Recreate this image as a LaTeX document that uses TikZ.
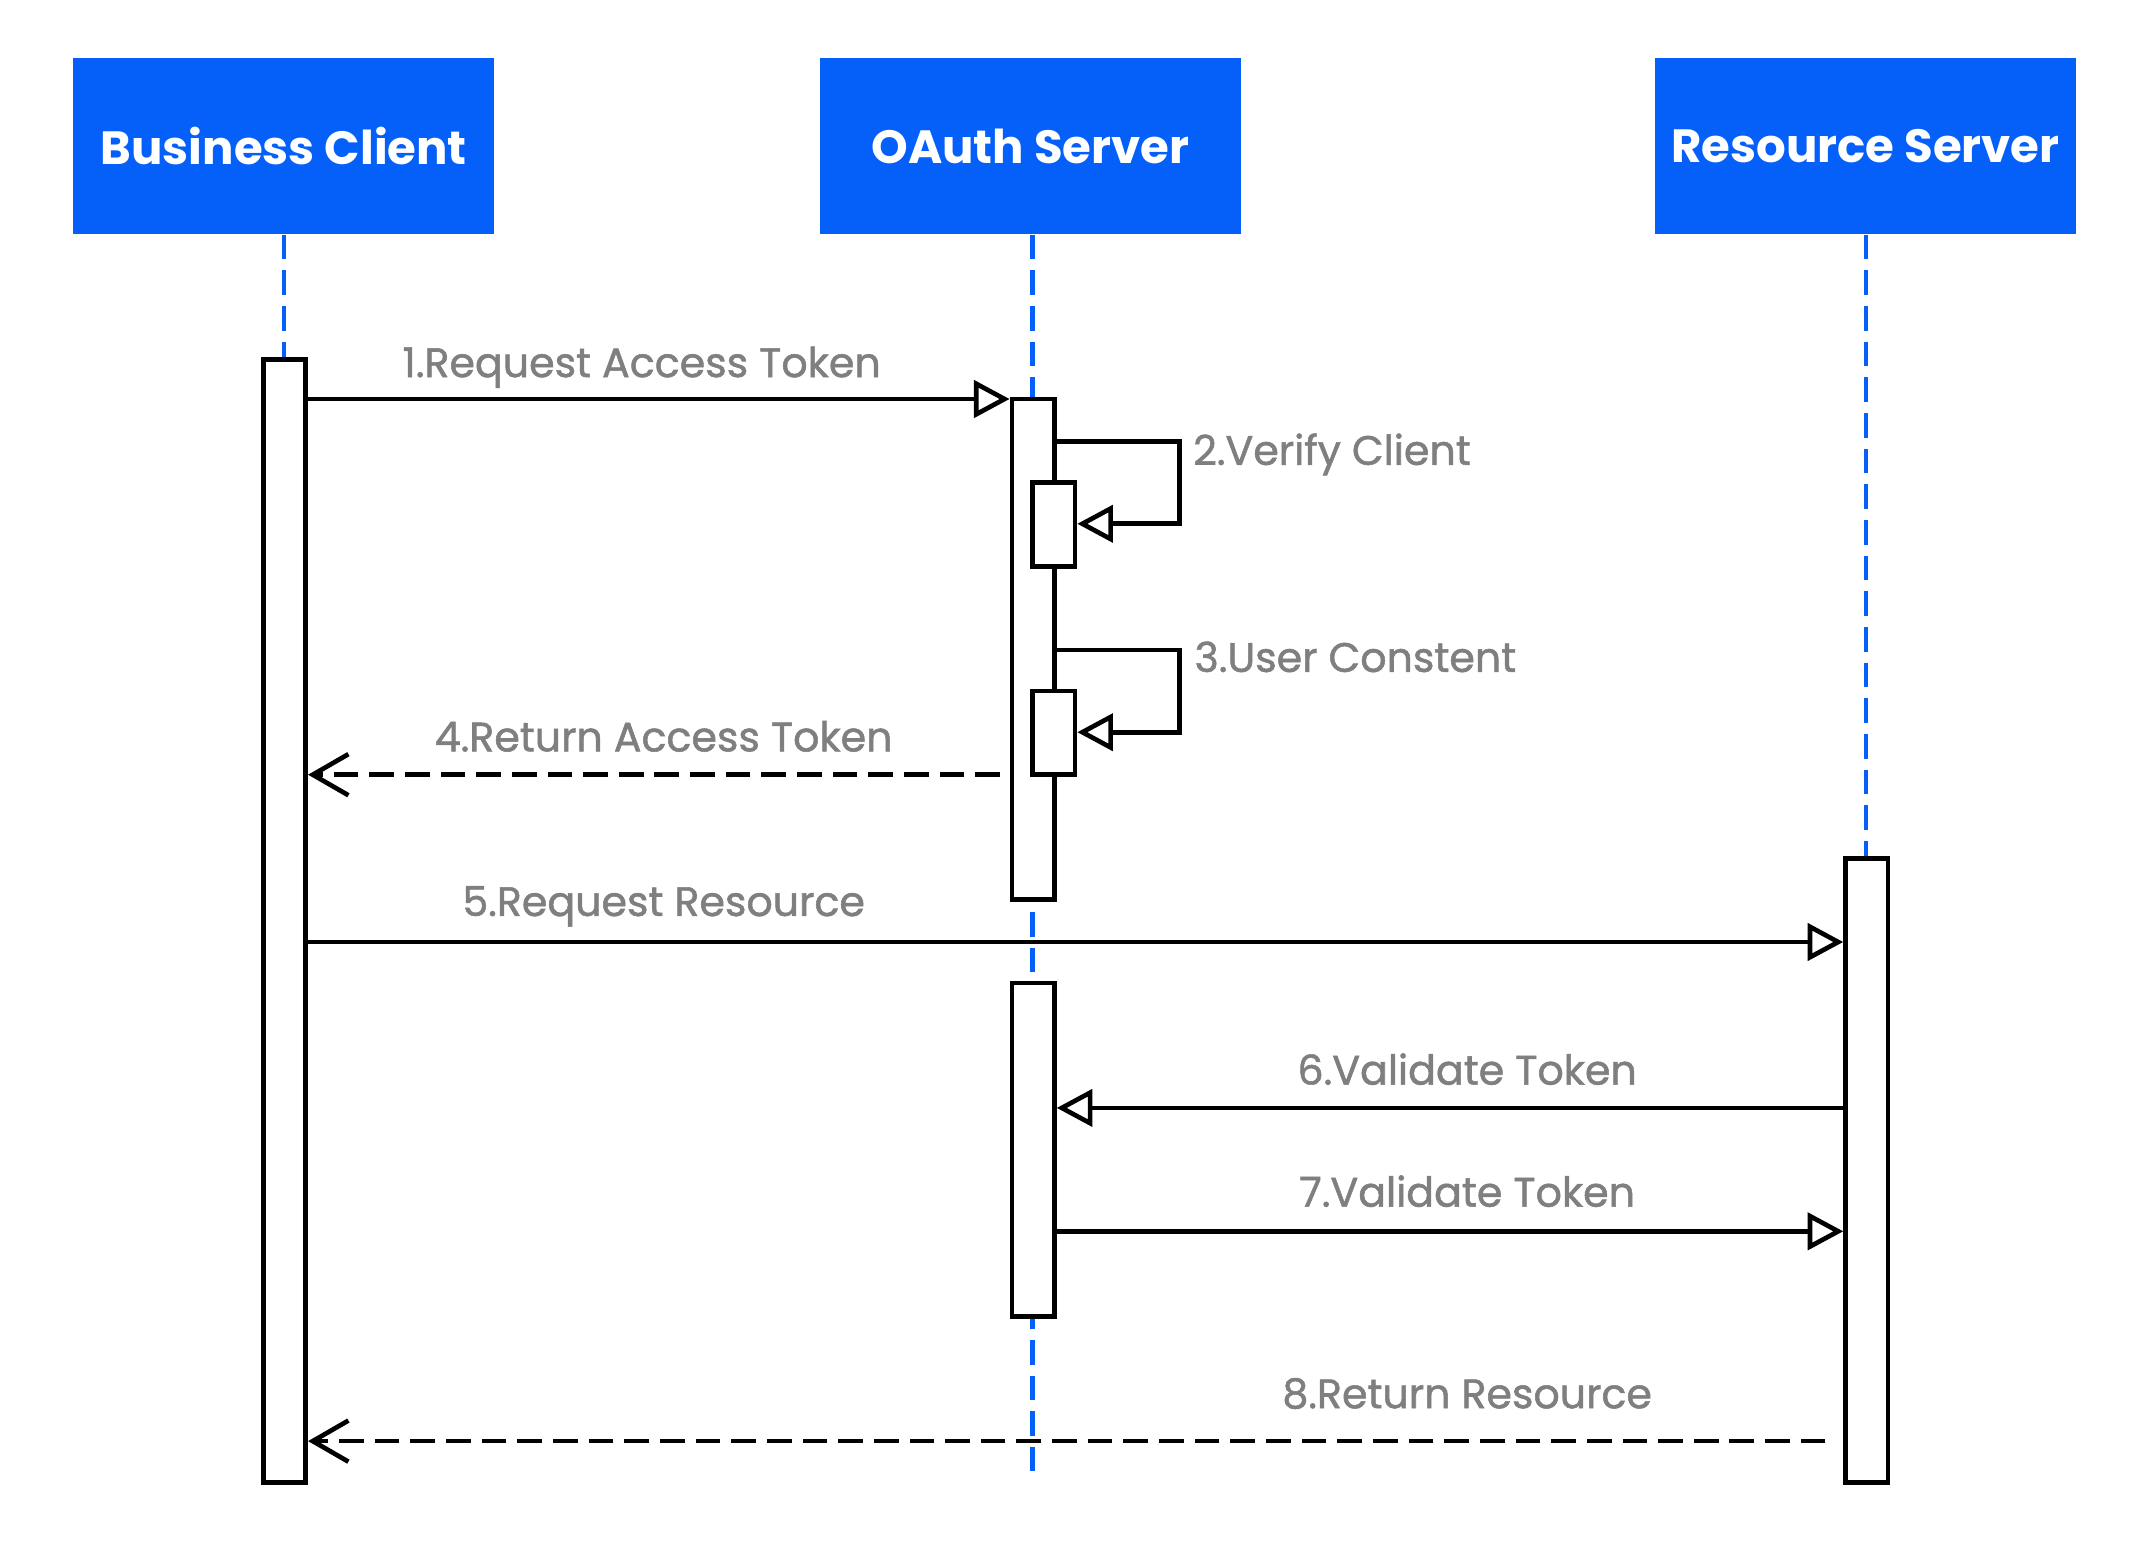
\documentclass[tikz,border=0pt]{standalone}
\usepackage{fontspec}
\setmainfont{Poppins}
\newfontfamily\lblfont[FakeBold=1.3]{Poppins}
\usetikzlibrary{arrows.meta}
\definecolor{hdblue}{HTML}{0560FA}
\definecolor{lblgray}{HTML}{7F7F7F}
\begin{document}
\begin{tikzpicture}[x=1pt,y=-1pt,
  head/.style={fill=hdblue, draw=none, minimum width=307pt, minimum height=129pt, inner sep=0pt,
    text=white, font=\fontsize{34}{39}\selectfont\bfseries},
  life/.style={draw=hdblue, line width=3pt, dash pattern=on 18pt off 8pt},
  act/.style={draw=black, fill=white, line width=3.4pt, minimum width=31pt, inner sep=0pt},
  msg/.style={draw=black, line width=3.4pt, -{Triangle[open, length=26pt, width=27pt]}},
  ret/.style={draw=black, line width=3.4pt, dash pattern=on 18pt off 8pt, -{Straight Barb[length=26pt, width=30pt]}},
  lbl/.style={text=lblgray, inner sep=0pt, anchor=base, font=\fontsize{30}{34}\lblfont}
]
\useasboundingbox (0,0) rectangle (1568,1124);

% headers
\node[head] (bc) at (207,106.5) {Business Client};
\node[head] (oa) at (751.5,106.5) {OAuth Server};
\node[head] (rs) at (1360.5,106.5) {Resource Server};

% lifelines
\coordinate (bcend) at (207,1073);
\coordinate (oaend) at (753,1073);
\coordinate (rsend) at (1361,1073);
\draw[life] (bc.south -| bcend) -- (bcend);
\draw[life] (oa.south -| oaend) -- (oaend);
\draw[life] (rs.south -| rsend) -- (rsend);

% activation boxes
\node[act, minimum height=819pt] (bcA) at (207.5,671.5) {};
\node[act, minimum height=365pt] (oa1) at (753.5,473.5) {};
\node[act, minimum height=61pt] (oa2) at (768.5,382.5) {};
\node[act, minimum height=61pt] (oa3) at (768.5,534.5) {};
\node[act, minimum height=243pt] (oa4) at (753.5,838.5) {};
\node[act, minimum height=455pt] (rsA) at (1361.5,853.5) {};

% 1
\draw[msg] (bcA.east |- 0,291) -- (oa1.west |- 0,291);
\node[lbl] (l1) at (468,275) {1.Request Access Token};
% 2
\coordinate (s2a) at (860,322);
\coordinate (s2b) at (860,382);
\draw[msg] (oa1.east |- s2a) -- (s2a) -- (s2b) -- (oa2.east |- s2b);
\node[lbl, anchor=base west] (l2) at (870,339) {2.Verify Client};
% 3
\coordinate (s3a) at (860,474);
\coordinate (s3b) at (860,534);
\draw[msg] (oa1.east |- s3a) -- (s3a) -- (s3b) -- (oa3.east |- s3b);
\node[lbl, anchor=base west] (l3) at (871,490) {3.User Constent};
% 4
\draw[ret] ([xshift=-7pt]oa1.west |- 0,565) -- (bcA.east |- 0,565);
\node[lbl] (l4) at (484,548) {4.Return Access Token};
% 5
\draw[msg] (bcA.east |- 0,687) -- (rsA.west |- 0,687);
\node[lbl] (l5) at (484,668) {5.Request Resource};
% 6
\draw[msg] (rsA.west |- 0,808) -- (oa4.east |- 0,808);
\node[lbl] (l6) at (1070,791) {6.Validate Token};
% 7
\draw[msg] (oa4.east |- 0,898) -- (rsA.west |- 0,898);
\node[lbl] (l7) at (1070,880) {7.Validate Token};
% 8
\draw[ret] ([xshift=-13pt]rsA.west |- 0,1051) -- (bcA.east |- 0,1051);
\node[lbl] (l8) at (1070,1027) {8.Return Resource};
\end{tikzpicture}
\end{document}
